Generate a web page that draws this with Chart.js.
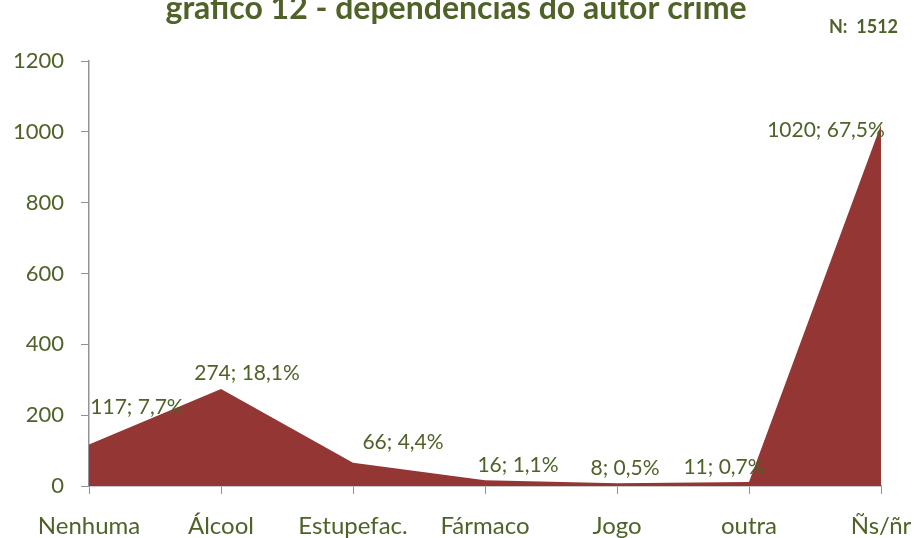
<!DOCTYPE html>
<html>
<head>
<meta charset="utf-8">
<script src="https://cdn.jsdelivr.net/npm/chart.js@4"></script>
<style>
  html, body { margin: 0; padding: 0; background: #fff; }
  #wrap { width: 914px; height: 538px; position: relative; }
</style>
</head>
<body>
<div id="wrap"><canvas id="chart"></canvas></div>
<script>
const categories = ["Nenhuma", "Álcool", "Estupefac.", "Fármaco", "Jogo", "outra", "Ñs/ñr"];
const counts = [117, 274, 66, 16, 8, 11, 1020];
const percents = ["7,7%", "18,1%", "4,4%", "1,1%", "0,5%", "0,7%", "67,5%"];
const yTicks = [0, 200, 400, 600, 800, 1000, 1200];

const green = "#4f6228";
const fontFamily = "Lato, 'Open Sans', sans-serif";

// where each data label sits relative to its point (dx, dy)
const labelShift = [[48, -37], [26, -16], [50, -20], [33, -15], [8, -15], [-25, -15], [-55, 5]];

const extras = {
  id: "extras",
  afterDatasetsDraw(chart) {
    const ctx = chart.ctx;
    const meta = chart.getDatasetMeta(0);
    ctx.save();
    ctx.fillStyle = green;
    ctx.font = "21px " + fontFamily;
    ctx.textAlign = "center";
    ctx.textBaseline = "middle";
    meta.data.forEach((pt, i) => {
      const s = labelShift[i];
      ctx.fillText(counts[i] + "; " + percents[i], pt.x + s[0], pt.y + s[1]);
    });
    ctx.font = "bold 32px " + fontFamily;
    ctx.textBaseline = "alphabetic";
    ctx.fillText("gráfico 12 - dependências do autor crime", 456, 19);
    ctx.font = "bold 18px " + fontFamily;
    ctx.textAlign = "left";
    ctx.fillText("N:  1512", 829, 33);
    ctx.restore();
  }
};

new Chart(document.getElementById("chart").getContext("2d"), {
  type: "line",
  data: {
    labels: categories,
    datasets: [{
      data: counts,
      fill: "origin",
      backgroundColor: "#943634",
      borderWidth: 0,
      pointRadius: 0,
      tension: 0
    }]
  },
  options: {
    responsive: true,
    maintainAspectRatio: false,
    animation: false,
    layout: { padding: { top: 61, right: 0, left: 0, bottom: 0 } },
    plugins: { legend: { display: false }, tooltip: { enabled: false } },
    scales: {
      x: {
        offset: false,
        grid: { drawOnChartArea: false, drawTicks: true, tickLength: 8, color: "#939393" },
        border: { color: "#939393", width: 1.5 },
        ticks: { color: green, font: { size: 24, family: fontFamily }, padding: 18, maxRotation: 0, autoSkip: false },
        afterFit(scale) { scale.height = 52; scale.paddingRight = 33; scale.paddingLeft = 0; }
      },
      y: {
        min: 0,
        max: 1200,
        afterBuildTicks(scale) { scale.ticks = yTicks.map(v => ({ value: v })); },
        grid: { drawOnChartArea: false, drawTicks: true, tickLength: 8, color: "#939393" },
        border: { color: "#939393", width: 1.5 },
        ticks: { color: green, font: { size: 22, family: fontFamily }, padding: 17, callback: v => String(v) },
        afterFit(scale) { scale.width = 89; }
      }
    }
  },
  plugins: [extras]
});
</script>
</body>
</html>
